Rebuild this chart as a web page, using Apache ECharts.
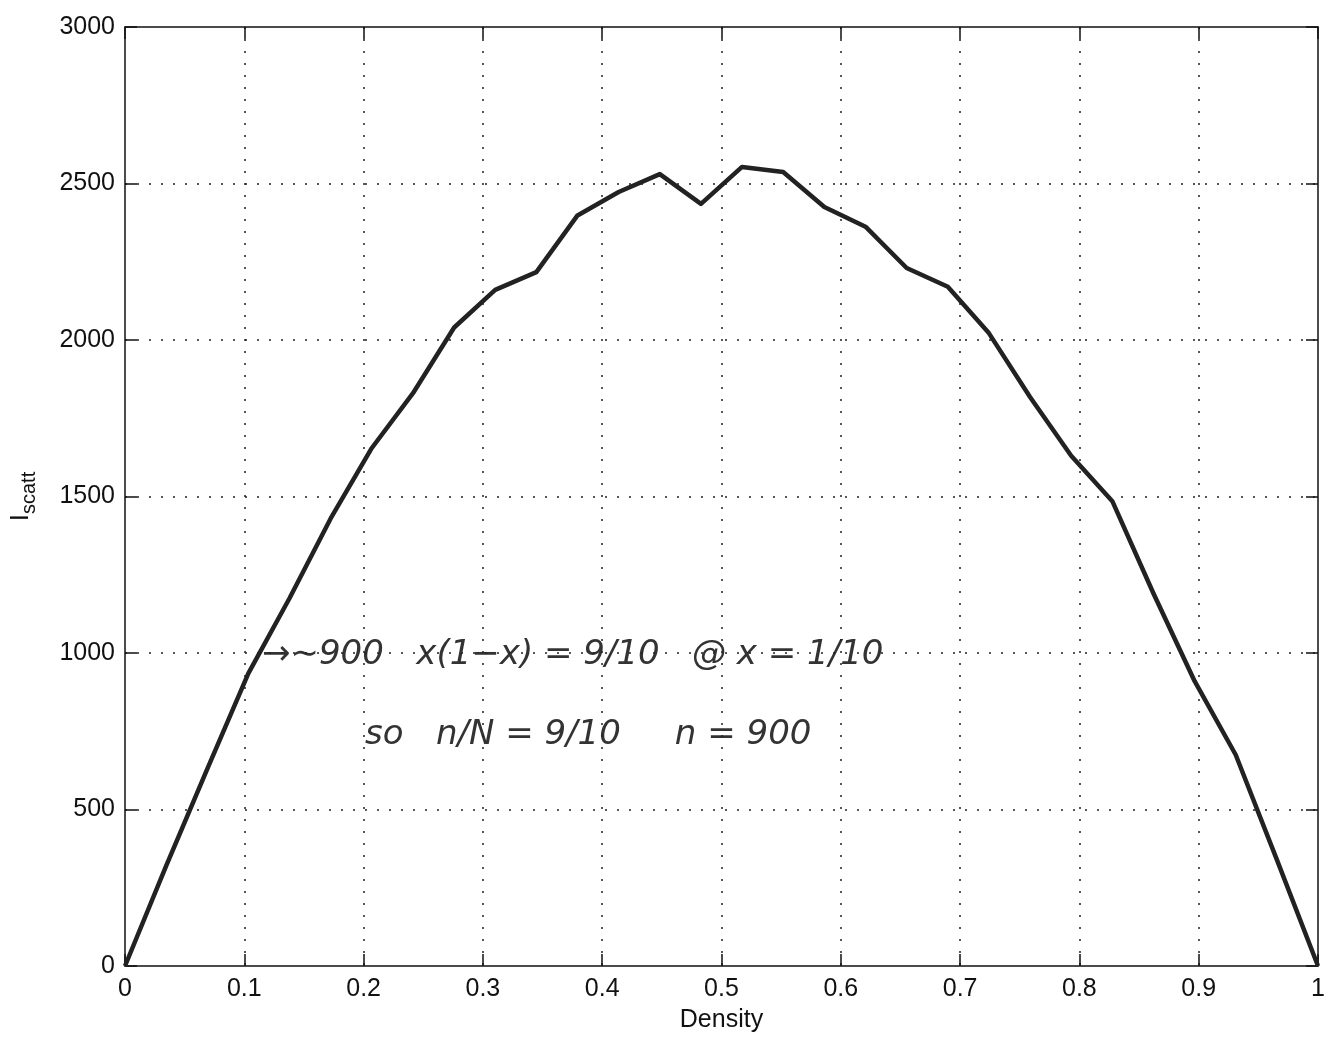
<!DOCTYPE html>
<html>
<head>
<meta charset="utf-8">
<script src="https://cdn.jsdelivr.net/npm/echarts@6/dist/echarts.min.js"></script>
<style>
html,body{margin:0;padding:0;background:#fff;}
#chart{width:1332px;height:1047px;}
</style>
</head>
<body>
<div id="chart"></div>
<script>
// Density values (x)
const density = [0, 0.0345, 0.069, 0.1034, 0.1379, 0.1724, 0.2069, 0.2414, 0.2759, 0.3103,
  0.3448, 0.3793, 0.4138, 0.4483, 0.4828, 0.5172, 0.5517, 0.5862, 0.6207, 0.6552,
  0.6897, 0.7241, 0.7586, 0.7931, 0.8276, 0.8621, 0.8966, 0.931, 0.9655, 1];
// I_scatt values (y)
const iscatt = [0, 320, 630, 935, 1175, 1430, 1655, 1830, 2040, 2160,
  2217, 2398, 2473, 2530, 2435, 2553, 2537, 2425, 2362, 2230,
  2170, 2022, 1818, 1630, 1485, 1190, 910, 675, 340, 0];
const xTicks = [0, 0.1, 0.2, 0.3, 0.4, 0.5, 0.6, 0.7, 0.8, 0.9, 1];
const yTicks = [0, 500, 1000, 1500, 2000, 2500, 3000];
const annotationLines = ['\u2192\u223C900   x(1\u2212x) = 9/10   @ x = 1/10', 'so   n/N = 9/10     n = 900'];

const FONT = 'Liberation Sans, Arial, Helvetica, sans-serif';
const chart = echarts.init(document.getElementById('chart'), null, {renderer: 'canvas'});

const gridLine = {show: true, showMinLine: false, showMaxLine: false,
  lineStyle: {color: '#222', width: 1.5, type: [2, 10]}};
const axLine = {show: true, onZero: false, lineStyle: {color: '#111', width: 1.5}};
const tick = {show: true, inside: true, length: 12, lineStyle: {color: '#111', width: 1.5}};

chart.setOption({
  backgroundColor: '#fff',
  animation: false,
  grid: {left: 125, right: 14, top: 27, bottom: 81, containLabel: false},
  xAxis: [{
    type: 'value', min: xTicks[0], max: xTicks[xTicks.length - 1], interval: 0.1,
    position: 'bottom',
    name: 'Density', nameLocation: 'middle', nameGap: 42,
    nameTextStyle: {fontFamily: FONT, fontSize: 25, color: '#111'},
    axisLine: axLine, axisTick: tick, splitLine: gridLine,
    axisLabel: {fontFamily: FONT, fontSize: 25, color: '#111', margin: 11,
      formatter: v => String(Math.round(v * 10) / 10)}
  }, {
    type: 'value', min: xTicks[0], max: xTicks[xTicks.length - 1], interval: 0.1,
    position: 'top', axisLine: axLine, axisTick: tick, splitLine: {show: false},
    axisLabel: {show: false}
  }],
  yAxis: [{
    type: 'value', min: yTicks[0], max: yTicks[yTicks.length - 1], interval: 500,
    position: 'left',
    name: '{i|I}{s|scatt}', nameLocation: 'middle', nameGap: 86, nameRotate: 90,
    nameTextStyle: {
      fontFamily: FONT, color: '#111',
      rich: {
        i: {fontFamily: FONT, fontSize: 26, color: '#111'},
        s: {fontFamily: FONT, fontSize: 20, color: '#111', verticalAlign: 'bottom', padding: [16, 0, 0, 0]}
      }
    },
    axisLine: axLine, axisTick: tick, splitLine: gridLine,
    axisLabel: {fontFamily: FONT, fontSize: 25, color: '#111', margin: 10,
      formatter: v => String(v)}
  }, {
    type: 'value', min: yTicks[0], max: yTicks[yTicks.length - 1], interval: 500,
    position: 'right', axisLine: axLine, axisTick: tick, splitLine: {show: false},
    axisLabel: {show: false}
  }],
  series: [{
    type: 'line',
    data: density.map((d, i) => [d, iscatt[i]]),
    showSymbol: false,
    lineStyle: {color: '#222', width: 4.5, join: 'round'},
    itemStyle: {color: '#222'}
  }],
  graphic: [
    {type: 'text', left: 262, top: 638, style: {text: annotationLines[0], font: 'italic 34px "DejaVu Sans"', fill: '#333'}},
    {type: 'text', left: 365, top: 718, style: {text: annotationLines[1], font: 'italic 34px "DejaVu Sans"', fill: '#333'}}
  ]
});
</script>
</body>
</html>
